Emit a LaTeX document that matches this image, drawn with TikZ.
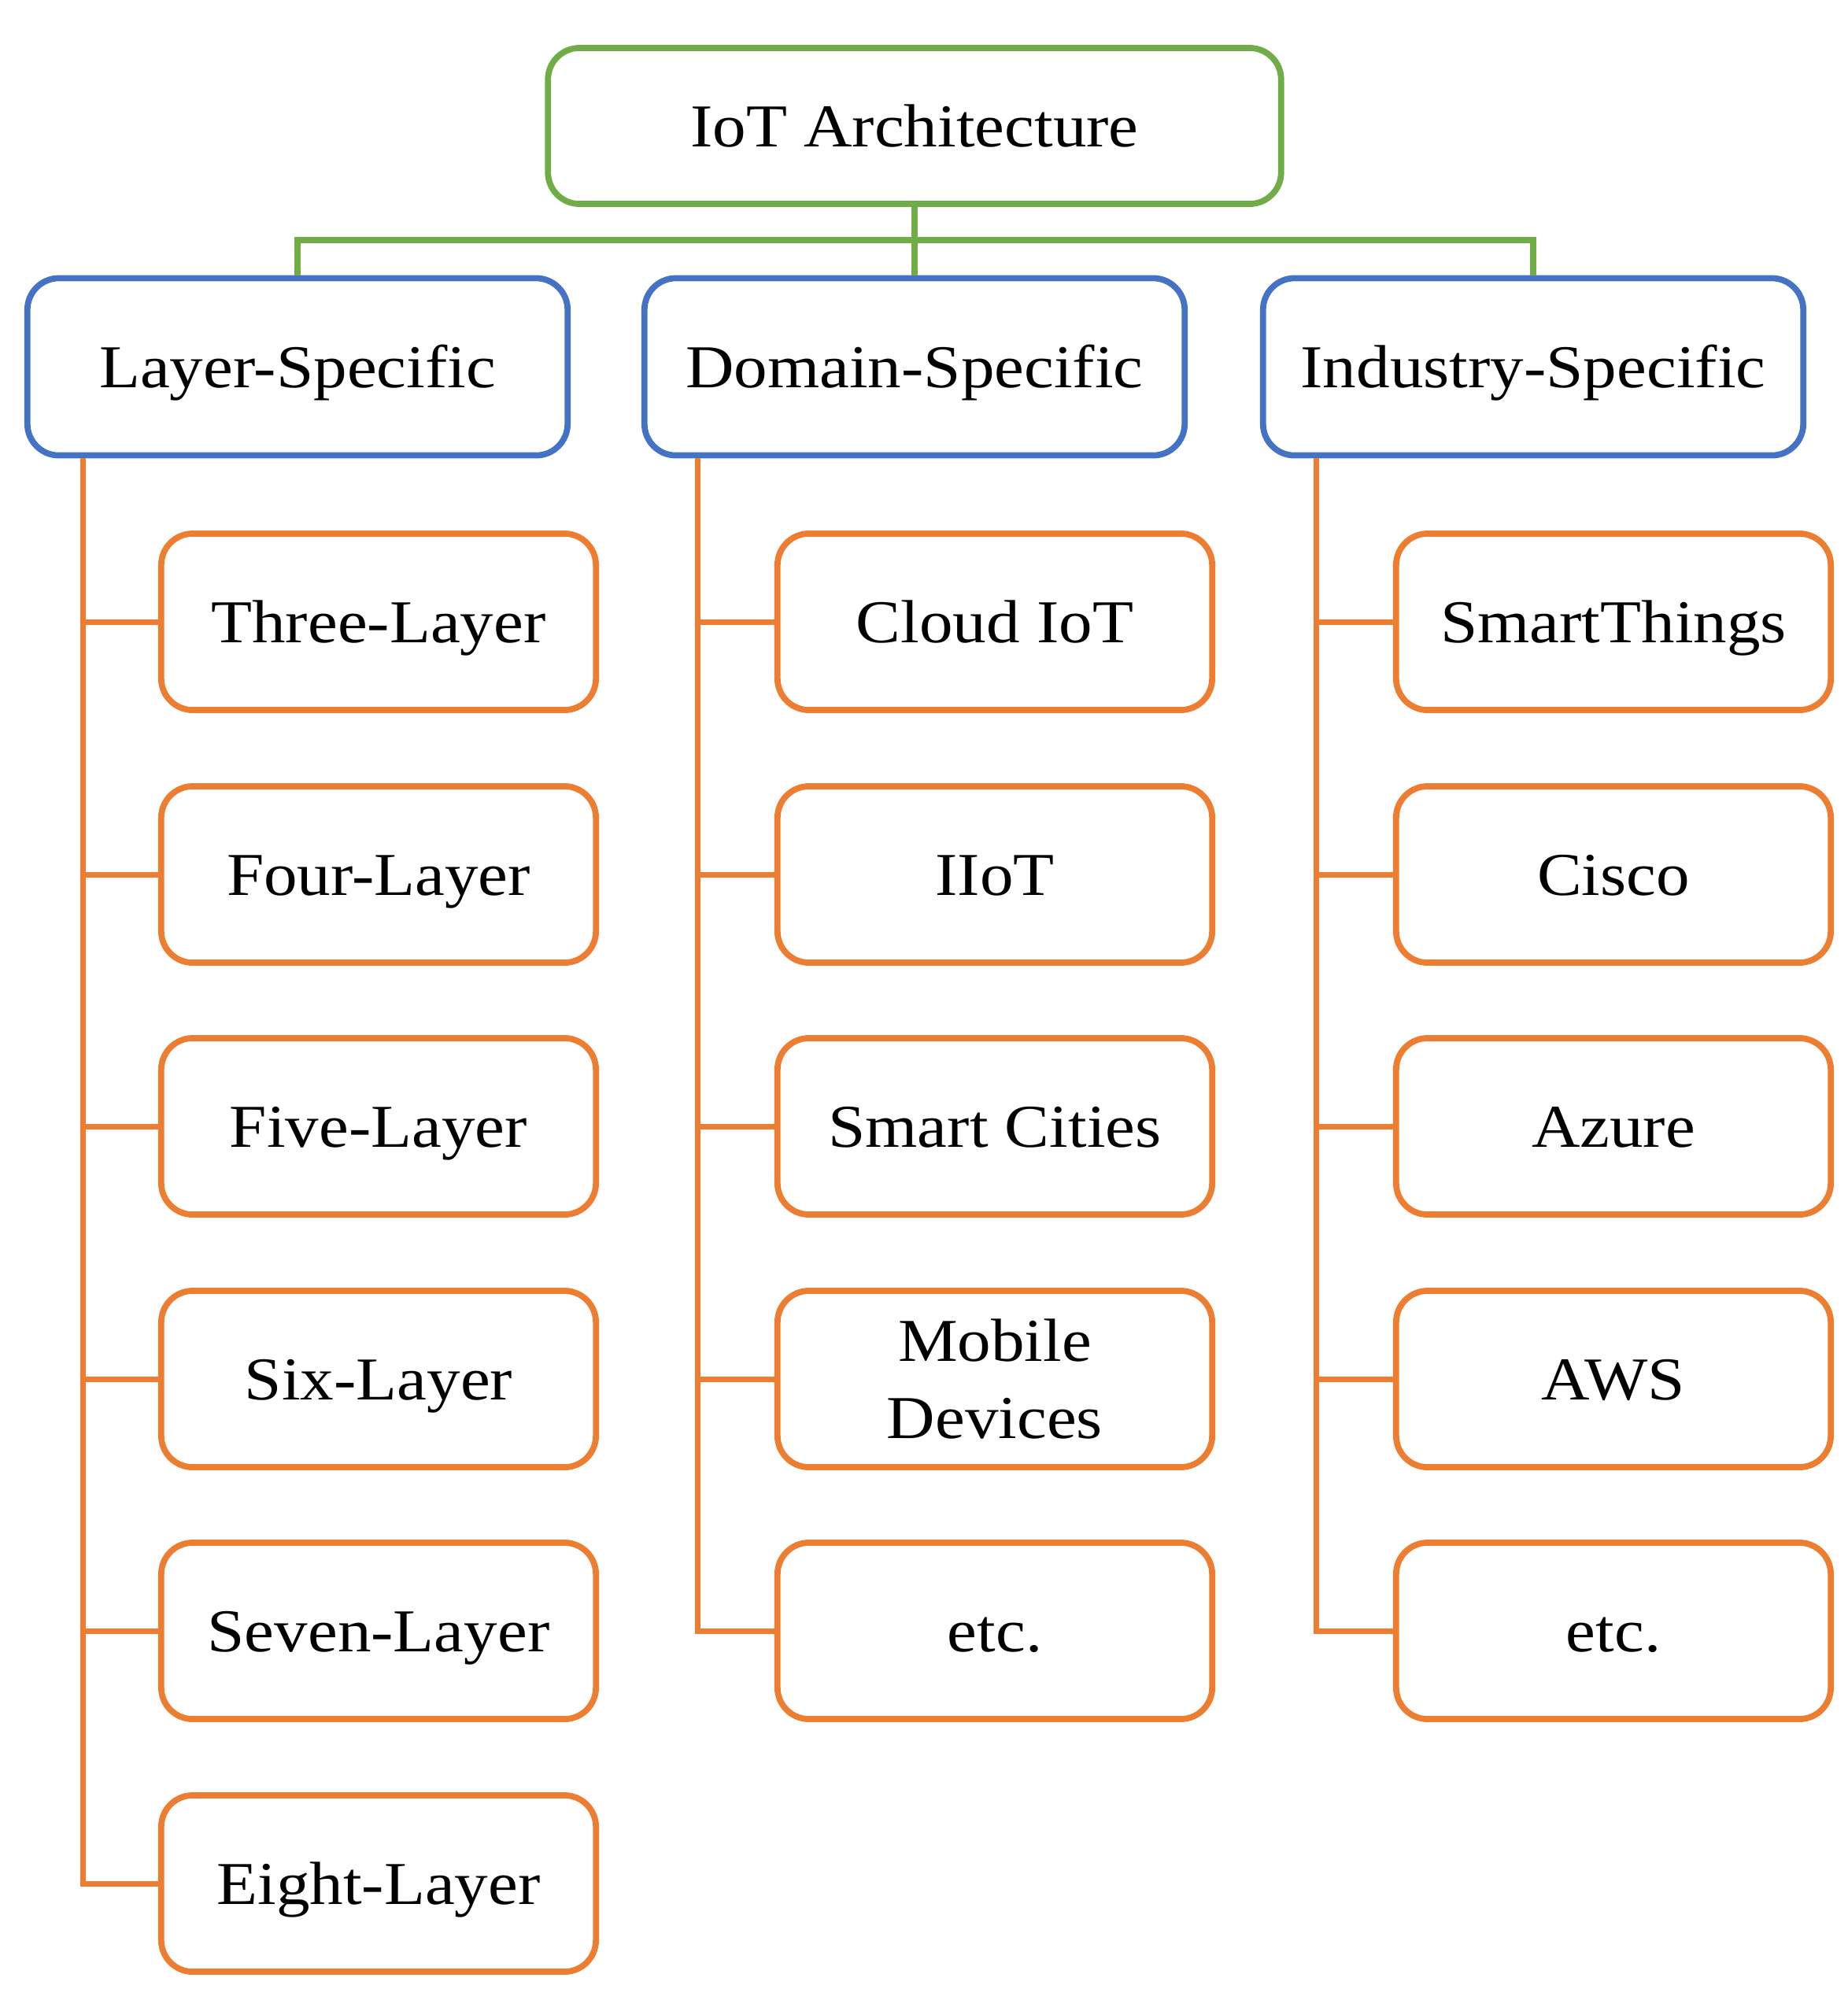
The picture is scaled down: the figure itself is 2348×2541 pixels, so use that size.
\documentclass[tikz,border=0pt]{standalone}
\usepackage{fontspec}
\setmainfont[FakeStretch=1.1]{Liberation Serif}
\definecolor{ogreen}{RGB}{112,173,71}
\definecolor{oblue}{RGB}{68,114,196}
\definecolor{oorange}{RGB}{237,125,49}
\tikzset{
 basebox/.style={draw, fill=white, rounded corners=0.4cm, line width=2.2pt, align=center, font=\fontsize{22}{28}\selectfont, inner sep=0pt},
 oneline/.style={text height=14.8pt, text depth=0pt},
 rootbox/.style={basebox, oneline, draw=ogreen, minimum width=9.31cm, minimum height=1.98cm},
 catbox/.style={basebox, oneline, draw=oblue, minimum width=6.86cm, minimum height=2.25cm},
 leafbox/.style={basebox, draw=oorange, minimum width=5.52cm, minimum height=2.24cm},
 leaf/.style={leafbox, oneline},
 gline/.style={draw=ogreen, line width=2pt},
 oline/.style={draw=oorange, line width=2pt},
}
\begin{document}
\begin{tikzpicture}[x=0.01cm,y=-0.01cm]
\useasboundingbox[fill=white] (0,0) rectangle (2348,2541);
% top levels
\node[rootbox] (root) at (1162,160) {IoT Architecture};
\node[catbox] (ls) at (378,466) {Layer-Specific};
\node[catbox] (ds) at (1162,466) {Domain-Specific};
\node[catbox] (is) at (1948,466) {Industry-Specific};
% layer-specific leaves
\node[leaf] (l1) at (481,790) {Three-Layer};
\node[leaf] (l2) at (481,1111) {Four-Layer};
\node[leaf] (l3) at (481,1431) {Five-Layer};
\node[leaf] (l4) at (481,1752) {Six-Layer};
\node[leaf] (l5) at (481,2072) {Seven-Layer};
\node[leaf] (l6) at (481,2393) {Eight-Layer};
% domain-specific leaves
\node[leaf] (d1) at (1264,790) {Cloud IoT};
\node[leaf] (d2) at (1264,1111) {IIoT};
\node[leaf] (d3) at (1264,1431) {Smart Cities};
\node[leafbox] (d4) at (1264,1752) {Mobile\\Devices};
\node[leaf] (d5) at (1264,2072) {etc.};
% industry-specific leaves
\node[leaf] (i1) at (2050,790) {SmartThings};
\node[leaf] (i2) at (2050,1111) {Cisco};
\node[leaf] (i3) at (2050,1431) {Azure};
\node[leaf] (i4) at (2050,1752) {AWS};
\node[leaf] (i5) at (2050,2072) {etc.};
% green connectors
\coordinate (bus) at (1162,305);
\draw[gline] (root.south) -- (ds.north);
\draw[gline] (ls.north) |- (bus) -| (is.north);
% orange spines
\path (ls.south west) ++(75,0) coordinate (lsp);
\path (ds.south west) ++(72,0) coordinate (dsp);
\path (is.south west) ++(72,0) coordinate (isp);
\draw[oline] (lsp) |- (l6.west);
\foreach \i in {1,...,5} \draw[oline] (l\i.west) -- (l\i.west -| lsp);
\draw[oline] (dsp) |- (d5.west);
\foreach \i in {1,...,4} \draw[oline] (d\i.west) -- (d\i.west -| dsp);
\draw[oline] (isp) |- (i5.west);
\foreach \i in {1,...,4} \draw[oline] (i\i.west) -- (i\i.west -| isp);
\end{tikzpicture}
\end{document}
